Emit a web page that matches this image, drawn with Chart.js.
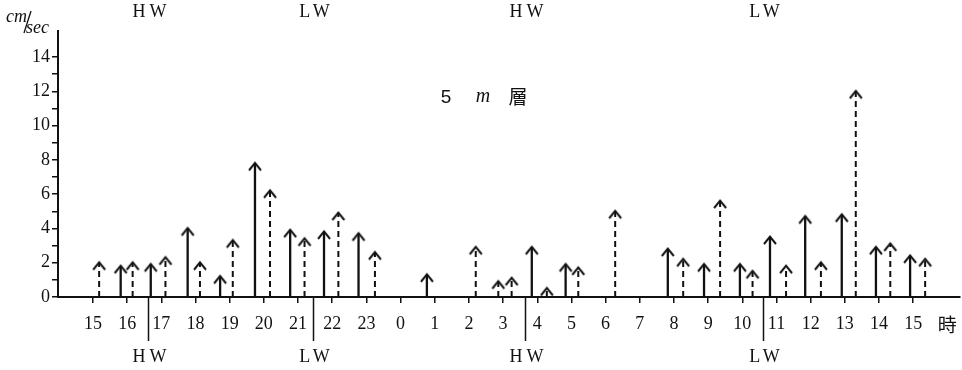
<!DOCTYPE html>
<html>
<head>
<meta charset="utf-8">
<script src="https://cdn.jsdelivr.net/npm/chart.js@4"></script>
<style>
  html, body { margin: 0; padding: 0; background: #fff; }
  #wrap { width: 962px; height: 370px; position: relative; }
</style>
</head>
<body>
<div id="wrap"><canvas id="c" width="962" height="370"></canvas></div>
<script>
// Time axis: position = hours after 15:00 of the first day
const hourLabels = ['15','16','17','18','19','20','21','22','23','0','1','2','3','4','5','6','7','8','9','10','11','12','13','14','15'];

// Current speed (cm/sec), solid arrows
const solidHours  = [0.81, 1.69, 2.77, 3.72, 4.74, 5.77, 6.76, 7.77, 9.77, 12.84, 13.83, 16.82, 17.88, 18.93, 19.81, 20.84, 21.91, 22.91, 23.91];
const solidSpeeds = [1.8,  1.9,  4.0,  1.2,  7.8,  3.9,  3.8,  3.7,  1.3,  2.9,   1.9,   2.8,   1.9,   1.9,   3.5,   4.7,   4.8,   2.9,   2.4];

// Current speed (cm/sec), dashed arrows
const dashedHours  = [0.18, 1.16, 2.12, 3.13, 4.09, 5.18, 6.19, 7.18, 8.25, 11.2, 11.86, 12.25, 13.28, 14.2, 15.28, 17.27, 18.35, 19.3, 20.28, 21.3, 22.32, 23.33, 24.35];
const dashedSpeeds = [2.0,  2.0,  2.3,  2.0,  3.3,  6.2,  3.4,  4.9,  2.6,  2.9,  0.9,   1.1,   0.5,   1.7,  5.0,   2.2,   5.6,   1.5,  1.8,   2.0,  12.0,  3.1,   2.2];

// High / low water times
const tideHours  = [1.61, 6.43, 12.64, 19.6];
const tideLabels = ['HW', 'LW', 'HW', 'LW'];

// Speed axis tick labels (every 1 cm/sec, labelled every 2)
const speedTicks = [0, 1, 2, 3, 4, 5, 6, 7, 8, 9, 10, 11, 12, 13, 14];
const speedTickLabels = ['0', '', '2', '', '4', '', '6', '', '8', '', '10', '', '12', '', '14'];

const SERIF = "'Liberation Serif', 'DejaVu Serif', serif";
const INK = '#111';

// each arrow: a shaft from 0 to its speed, broken off before the next one
function arrows(hours, speeds) {
  const pts = [];
  hours.forEach((h, i) => {
    pts.push({ x: h, y: 0 });
    pts.push({ x: h, y: speeds[i] });
    pts.push({ x: h, y: null });
  });
  return pts;
}

// open chevron used as the arrow head, apex at the canvas centre
function makeHead() {
  const c = document.createElement('canvas');
  c.width = 16; c.height = 20;
  const g = c.getContext('2d');
  g.strokeStyle = INK;
  g.lineWidth = 2;
  g.lineJoin = 'miter';
  g.beginPath();
  g.moveTo(2, 17);
  g.lineTo(8, 9.6);
  g.lineTo(14, 17);
  g.stroke();
  return c;
}
const head = makeHead();

const headRadius = ctx => (ctx.raw && ctx.raw.y > 0 ? 4 : 0);

const annotations = {
  id: 'annotations',
  afterDraw(chart) {
    const { ctx, chartArea } = chart;
    const xs = chart.scales.x;
    const base = chartArea.bottom;
    ctx.save();
    ctx.fillStyle = INK;
    ctx.strokeStyle = INK;

    // tide markers: lines below the axis, labels above and below
    ctx.font = '18px ' + SERIF;
    ctx.letterSpacing = '4px';
    ctx.textAlign = 'center';
    ctx.textBaseline = 'middle';
    ctx.lineWidth = 1.5;
    tideHours.forEach((h, i) => {
      const px = Math.round(xs.getPixelForValue(h)) + 0.5;
      ctx.beginPath();
      ctx.moveTo(px, base);
      ctx.lineTo(px, base + 44);
      ctx.stroke();
      ctx.fillText(tideLabels[i], px + 3, 357);
      ctx.fillText(tideLabels[i], px + 3, 12);
    });
    ctx.letterSpacing = '0px';

    // unit of the speed axis
    ctx.font = 'italic 18px ' + SERIF;
    ctx.textAlign = 'left';
    ctx.textBaseline = 'alphabetic';
    ctx.fillText('cm', 6, 22);
    ctx.fillText('sec', 26, 33);
    ctx.lineWidth = 1.3;
    ctx.beginPath();
    ctx.moveTo(24, 33);
    ctx.lineTo(31, 11);
    ctx.stroke();

    // layer title
    ctx.textBaseline = 'middle';
    ctx.textAlign = 'center';
    ctx.font = '19px "Liberation Sans", sans-serif';
    ctx.fillText('5', 446, 98);
    ctx.font = 'italic 20px ' + SERIF;
    ctx.fillText('m', 483, 97);
    ctx.font = '19px "Noto Sans CJK JP", sans-serif';
    ctx.fillText('層', 518, 97);

    // unit of the time axis
    ctx.font = '19px "Noto Sans CJK JP", sans-serif';
    ctx.fillText('時', xs.getPixelForValue(24) + 34, 325);
    ctx.restore();
  }
};

new Chart(document.getElementById('c'), {
  type: 'scatter',
  data: {
    datasets: [
      {
        label: 'solid',
        data: arrows(solidHours, solidSpeeds),
        showLine: true,
        spanGaps: false,
        borderColor: INK,
        borderWidth: 2.3,
        pointStyle: head,
        pointRadius: headRadius,
        pointHoverRadius: headRadius
      },
      {
        label: 'dashed',
        data: arrows(dashedHours, dashedSpeeds),
        showLine: true,
        spanGaps: false,
        borderColor: INK,
        borderWidth: 2,
        borderDash: [6, 4],
        pointStyle: head,
        pointRadius: headRadius,
        pointHoverRadius: headRadius
      }
    ]
  },
  options: {
    responsive: false,
    animation: false,
    devicePixelRatio: 1,
    layout: { padding: { left: 0, right: 2, top: 31, bottom: 0 } },
    plugins: { legend: { display: false }, tooltip: { enabled: false } },
    scales: {
      x: {
        type: 'linear',
        min: -1.024,
        max: 25.37,
        afterBuildTicks: s => { s.ticks = hourLabels.map((_, i) => ({ value: i })); },
        afterFit: s => { s.height = 73; },
        ticks: {
          color: INK,
          font: { family: SERIF, size: 18 },
          padding: 10,
          maxRotation: 0,
          autoSkip: false,
          callback: v => hourLabels[v]
        },
        grid: { drawOnChartArea: false, drawTicks: true, tickLength: 6, color: INK, lineWidth: 1.5 },
        border: { display: true, color: INK, width: 2 }
      },
      y: {
        type: 'linear',
        min: 0,
        max: 15.52,
        afterBuildTicks: s => { s.ticks = speedTicks.map(v => ({ value: v })); },
        afterFit: s => { s.width = 58; },
        ticks: {
          color: INK,
          font: { family: SERIF, size: 18 },
          padding: 2,
          autoSkip: false,
          callback: (v, i) => speedTickLabels[i]
        },
        grid: { drawOnChartArea: false, drawTicks: true, tickLength: 6, color: INK, lineWidth: 1.5 },
        border: { display: true, color: INK, width: 2 }
      }
    }
  },
  plugins: [annotations]
});
</script>
</body>
</html>
